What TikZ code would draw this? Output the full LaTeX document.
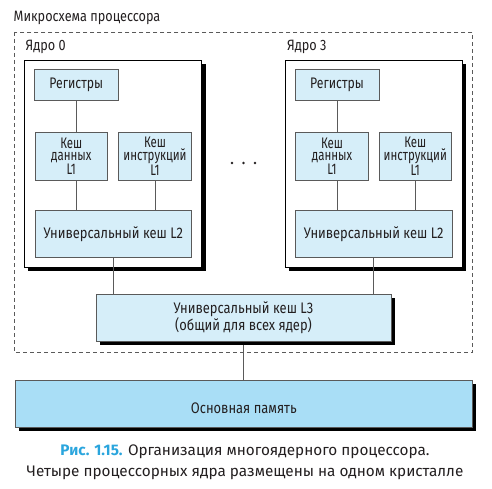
\documentclass[tikz,border=0pt]{standalone}
\usepackage{fontspec}
\setmainfont{Fira Sans}
\newfontfamily\diag[FakeStretch=0.845]{Fira Sans}
\newfontfamily\diagreg[FakeStretch=0.80]{Fira Sans}
\newfontfamily\diagnar[FakeStretch=0.75]{Fira Sans}
\usetikzlibrary{shadows}
\definecolor{boxfill}{HTML}{D6EEF9}
\definecolor{memfill}{HTML}{A9DEF6}
\definecolor{boxline}{HTML}{5A5A5A}
\definecolor{capblue}{HTML}{2AA5DD}
\definecolor{txt}{HTML}{231F20}
\tikzset{
  lbl/.style={font=\diag\fontsize{15}{15}\selectfont, text=txt, inner sep=0pt},
  cachebox/.style={draw=boxline, line width=0.8pt, fill=boxfill, minimum width=#1, align=center, font=\diag\fontsize{15.3}{12.5}\selectfont, text=txt, inner sep=0pt},
  narrowtext/.style={font=\diagnar\fontsize{15.3}{12.5}\selectfont},
  regtext/.style={font=\diagreg\fontsize{15.3}{12.5}\selectfont},
  corebox/.style={draw=black, line width=0.7pt, fill=white, minimum width=177.4pt, minimum height=207.3pt,
     drop shadow={shadow xshift=4pt, shadow yshift=-3.5pt, fill=black, opacity=1}},
  bigbox/.style={draw=boxline, line width=0.8pt, minimum width=#1, minimum height=47pt, align=center,
     font=\diag\fontsize{15.3}{17}\selectfont, text=txt, inner sep=0pt,
     drop shadow={shadow xshift=3.8pt, shadow yshift=-3.6pt, fill=black, opacity=1}},
  wire/.style={draw=boxline, line width=0.8pt},
  dot/.style={circle, fill=txt, inner sep=0pt, minimum size=2.6pt},
  captext/.style={font=\fontsize{15.3}{18}\selectfont, text=txt, inner sep=0pt, anchor=base}
}
\begin{document}
\begin{tikzpicture}[x=1pt,y=-1pt]
\useasboundingbox (0,0) rectangle (492,489);
% outer chip
\draw[draw=boxline, line width=0.7pt, dash pattern=on 4pt off 3pt] (14,32) rectangle (472.7,352);
\node[lbl, anchor=west] (chip) at (13.5,17.5) {Микросхема процессора};
% cores
\node[corebox] (core0) at (113,163.7) {};
\node[corebox] (core3) at (373.7,163.7) {};
\node[lbl, anchor=west] (c0lbl) at (25.5,47) {Ядро 0};
\node[lbl, anchor=west] (c3lbl) at (287,47) {Ядро 3};
% core 0 content
\node[cachebox=84pt, regtext, minimum height=31.4pt] (reg0) at (76.3,85) {Регистры};
\node[cachebox=72.7pt, narrowtext, minimum height=47.7pt] (d0) at (71.3,156.2) {Кеш\\данных\\L1};
\node[cachebox=73.4pt, narrowtext, minimum height=47.7pt] (i0) at (155,156.2) {Кеш\\инструкций\\L1};
\node[cachebox=156.7pt, minimum height=46.6pt] (l20) at (113.3,234) {Универсальный кеш L2};
% core 3 content
\node[cachebox=84pt, regtext, minimum height=31.4pt] (reg3) at (337,85) {Регистры};
\node[cachebox=72.6pt, narrowtext, minimum height=47.7pt] (d3) at (332,156.2) {Кеш\\данных\\L1};
\node[cachebox=72.7pt, narrowtext, minimum height=47.7pt] (i3) at (415.3,156.2) {Кеш\\инструкций\\L1};
\node[cachebox=157.3pt, minimum height=46.6pt] (l23) at (373.7,234) {Универсальный кеш L2};
% dots
\node[dot] (dt1) at (232,163) {};
\node[dot] (dt2) at (243.5,163) {};
\node[dot] (dt3) at (255,163) {};
% L3 and memory
\node[bigbox=295pt, fill=boxfill] (l3) at (243.5,317.5) {Универсальный кеш L3\\(общий для всех ядер)};
\node[bigbox=457.7pt, fill=memfill, minimum height=46.6pt] (mem) at (243.8,404) {};
\node[lbl, font=\diag\fontsize{15.3}{17}\selectfont] (memtxt) at (243.8,408) {Основная память};
% wires
\draw[wire] (reg0.south) -- (reg0.south |- d0.north);
\draw[wire] (reg0.south |- d0.south) -- (reg0.south |- l20.north);
\draw[wire] (i0.south) -- (i0.south |- l20.north);
\draw[wire] (reg3.south) -- (reg3.south |- d3.north);
\draw[wire] (reg3.south |- d3.south) -- (reg3.south |- l23.north);
\draw[wire] (i3.south) -- (i3.south |- l23.north);
\draw[wire] (l20.south) -- (l20.south |- l3.north);
\draw[wire] (l23.south) -- (l23.south |- l3.north);
\draw[wire] (l3.south) ++(0,3.6) -- (l3.south |- mem.north);
% caption
\node[captext] (cap1) at (245,455) {{\bfseries\color{capblue}Рис. 1.15.} Организация многоядерного процессора.};
\node[captext] (cap2) at (245,476.5) {Четыре процессорных ядра размещены на одном кристалле};
\end{tikzpicture}
\end{document}
